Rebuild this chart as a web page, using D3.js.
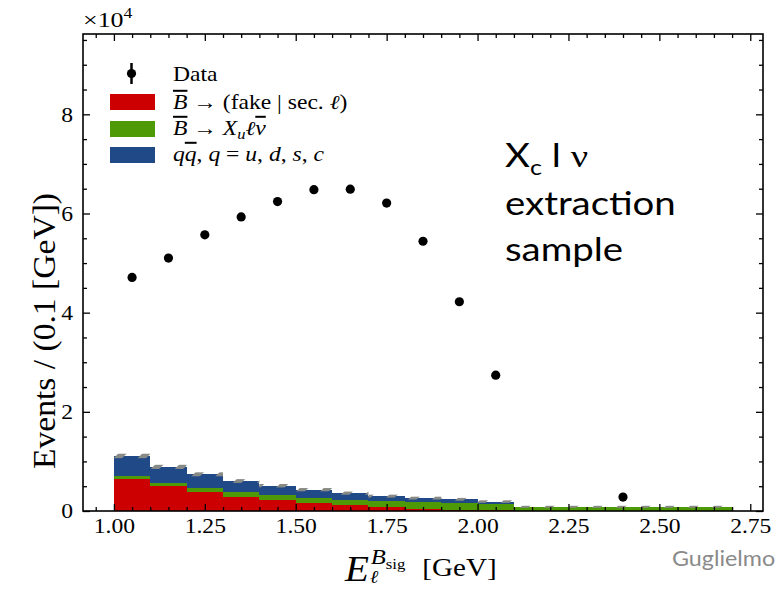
<!DOCTYPE html>
<html>
<head>
<meta charset="utf-8">
<script src="https://cdn.jsdelivr.net/npm/d3@7"></script>
<style>
  html, body { margin: 0; padding: 0; background: #fff; }
  svg { display: block; }
  .serif { font-family: "Liberation Serif", "DejaVu Serif", serif; }
</style>
</head>
<body>
<svg id="chart" width="776" height="590"></svg>
<script>
// Bin edges of the lepton-energy histogram [GeV]
const binEdges = [1.0, 1.1, 1.2, 1.3, 1.4, 1.5, 1.6, 1.7, 1.8, 1.9, 2.0, 2.1, 2.7];

// Stacked background templates (events per bin)
const fakeSecLep = [6400, 5000, 3770, 2900, 2200, 1550, 1150, 750, 470, 260, 140, 50];
const xuLepNu    = [650, 650, 810, 1000, 950, 1050, 1050, 1250, 1330, 1290, 1330, 700];
const qqbarCont  = [4050, 3250, 2820, 2150, 1950, 1700, 1400, 1000, 800, 810, 430, 100];
// Template uncertainty on the stacked total
const stackErr   = [450, 420, 400, 380, 350, 330, 320, 300, 290, 280, 260, 200];

// Observed data
const dataX   = [1.05, 1.15, 1.25, 1.35, 1.45, 1.55, 1.65, 1.75, 1.85, 1.95, 2.05, 2.4];
const dataY   = [47100, 51000, 55700, 59300, 62400, 64800, 64900, 62100, 54400, 42200, 27400, 2800];
const dataErr = [217, 226, 236, 244, 250, 255, 255, 249, 233, 205, 166, 53];

// Axis ticks
const xMajorTicks = [1.00, 1.25, 1.50, 1.75, 2.00, 2.25, 2.50, 2.75];
const yMajorTicks = [0, 20000, 40000, 60000, 80000];

const colors = { fake: "#cc0000", xu: "#4e9a06", qq: "#204a87", band: "#888a85" };

const W = 776, H = 590;
const plot = { left: 83, right: 763, top: 34, bottom: 511 };
const SX = 1.18; // horizontal glyph stretch used for the figure's text

const svg = d3.select("#chart");
svg.append("rect").attr("width", W).attr("height", H).attr("fill", "#fff");

const x = d3.scaleLinear().domain([0.915, 2.785]).range([plot.left, plot.right]);
const y = d3.scaleLinear().domain([0, 96200]).range([plot.bottom, plot.top]);

// Hatch pattern for the uncertainty band
const defs = svg.append("defs");
const pat = defs.append("pattern")
  .attr("id", "hatch").attr("patternUnits", "userSpaceOnUse")
  .attr("width", 24).attr("height", 24);
pat.append("path")
  .attr("d", "M-12,12 L12,-12 M0,24 L24,0 M12,36 L36,12")
  .attr("stroke", colors.band).attr("stroke-width", 6);
defs.append("clipPath").attr("id", "plotclip").append("rect")
  .attr("x", plot.left).attr("y", plot.top)
  .attr("width", plot.right - plot.left).attr("height", plot.bottom - plot.top);

const g = svg.append("g").attr("clip-path", "url(#plotclip)");

// Build stacked bins
const bins = binEdges.slice(0, -1).map((lo, i) => ({
  lo, hi: binEdges[i + 1],
  fake: fakeSecLep[i], xu: xuLepNu[i], qq: qqbarCont[i], err: stackErr[i]
}));
const stack = d3.stack().keys(["fake", "xu", "qq"])(bins);

const layerColor = { fake: colors.fake, xu: colors.xu, qq: colors.qq };
stack.forEach(layer => {
  g.append("g").selectAll("rect").data(layer).join("rect")
    .attr("x", d => x(d.data.lo))
    .attr("width", d => x(d.data.hi) - x(d.data.lo))
    .attr("y", d => y(d[1]))
    .attr("height", d => y(d[0]) - y(d[1]))
    .attr("fill", layerColor[layer.key])
    .attr("shape-rendering", "crispEdges");
});

// Uncertainty band on the stacked total
const totals = stack[stack.length - 1];
g.append("g").selectAll("rect").data(totals).join("rect")
  .attr("x", d => x(d.data.lo))
  .attr("width", d => x(d.data.hi) - x(d.data.lo))
  .attr("y", d => y(d[1] + d.data.err))
  .attr("height", d => y(d[1] - d.data.err) - y(d[1] + d.data.err))
  .attr("fill", "url(#hatch)");

// Data points with error bars
const pts = g.append("g");
pts.selectAll("line").data(dataX).join("line")
  .attr("x1", d => x(d)).attr("x2", d => x(d))
  .attr("y1", (d, i) => y(dataY[i] - dataErr[i]))
  .attr("y2", (d, i) => y(dataY[i] + dataErr[i]))
  .attr("stroke", "#000").attr("stroke-width", 2);
pts.selectAll("circle").data(dataX).join("circle")
  .attr("cx", d => x(d)).attr("cy", (d, i) => y(dataY[i]))
  .attr("r", 4.6).attr("fill", "#000");

// Axes: ticks pointing inward on all four sides
function minorRange(a, b, step) {
  const out = [];
  for (let v = a; v <= b + 1e-9; v += step) out.push(+v.toFixed(4));
  return out;
}
const xMinor = minorRange(0.95, 2.75, 0.05).filter(v => !xMajorTicks.some(t => Math.abs(t - v) < 1e-6));
const yMinor = minorRange(0, 95000, 5000).filter(v => !yMajorTicks.includes(v));

function drawAxis(axisFn, scale, ticks, size, transform, labels, fmt) {
  const a = svg.append("g").attr("transform", transform)
    .call(axisFn(scale).tickValues(ticks).tickSize(-size).tickSizeOuter(0)
      .tickFormat(labels ? fmt : ""));
  a.select(".domain").remove();
  a.selectAll(".tick line").attr("stroke", "#000").attr("stroke-width", 1.3);
  return a;
}
const fmtX = d3.format(".2f");
const fmtY = d => d3.format("d")(d / 10000);

const xb = drawAxis(d3.axisBottom, x, xMajorTicks, 7, `translate(0,${plot.bottom})`, true, fmtX);
drawAxis(d3.axisBottom, x, xMinor, 4, `translate(0,${plot.bottom})`, false);
drawAxis(d3.axisTop, x, xMajorTicks, 7, `translate(0,${plot.top})`, false);
drawAxis(d3.axisTop, x, xMinor, 4, `translate(0,${plot.top})`, false);
const yl = drawAxis(d3.axisLeft, y, yMajorTicks, 7, `translate(${plot.left},0)`, true, fmtY);
drawAxis(d3.axisLeft, y, yMinor, 4, `translate(${plot.left},0)`, false);
drawAxis(d3.axisRight, y, yMajorTicks, 7, `translate(${plot.right},0)`, false);
drawAxis(d3.axisRight, y, yMinor, 4, `translate(${plot.right},0)`, false);

xb.selectAll(".tick text")
  .attr("class", "serif").attr("font-size", 20).attr("fill", "#000")
  .attr("y", 8).attr("dy", "0.71em")
  .attr("transform", `scale(${SX},1)`);
yl.selectAll(".tick text")
  .attr("class", "serif").attr("font-size", 20).attr("fill", "#000")
  .attr("x", -8.5).attr("dy", "0.34em")
  .attr("transform", `scale(${SX},1)`);

// Frame
svg.append("rect")
  .attr("x", plot.left).attr("y", plot.top)
  .attr("width", plot.right - plot.left).attr("height", plot.bottom - plot.top)
  .attr("fill", "none").attr("stroke", "#000").attr("stroke-width", 1.6);

// Place a text group at (px, py) with the horizontal stretch applied
function stretched(px, py, sx = SX, sy = 1) {
  return svg.append("g").attr("transform", `translate(${px},${py}) scale(${sx},${sy})`);
}

// Offset text for the y axis
const off = stretched(83, 27).append("text").attr("class", "serif")
  .attr("font-size", 22).attr("fill", "#000");
off.append("tspan").text("×10");
off.append("tspan").attr("dy", -9).attr("font-size", 15).text("4");

// Axis titles
svg.append("g").attr("transform", "translate(55,331) rotate(-90) scale(1.2,1.1)")
  .append("text").attr("class", "serif")
  .attr("text-anchor", "middle").attr("font-size", 28).attr("fill", "#000")
  .text("Events / (0.1 [GeV])");

// E_l^{B_sig} [GeV]: main symbol, superscript and subscript as separate texts
const xt = stretched(345, 581, 1.12, 1).attr("class", "serif").attr("fill", "#000");
xt.append("text").attr("font-style", "italic").attr("font-size", 35).text("E");
const sup = xt.append("text").attr("x", 23).attr("y", -17).attr("font-size", 22);
sup.append("tspan").attr("font-style", "italic").text("B");
sup.append("tspan").attr("font-size", 15).attr("dy", 5).text("sig");
xt.append("text").attr("x", 22).attr("y", 2).attr("font-style", "italic").attr("font-size", 18).text("ℓ");
xt.append("text").attr("x", 69).attr("y", -5).attr("font-size", 26).text("[GeV]");

// Legend
const leg = svg.append("g");
leg.append("line").attr("x1", 131.5).attr("x2", 131.5).attr("y1", 63).attr("y2", 84)
  .attr("stroke", "#000").attr("stroke-width", 2.5);
leg.append("circle").attr("cx", 131.5).attr("cy", 73.5).attr("r", 4.6).attr("fill", "#000");
const swatches = [
  { c: colors.fake, y: 94 },
  { c: colors.xu, y: 121 },
  { c: colors.qq, y: 147 }
];
leg.selectAll("rect.sw").data(swatches).join("rect")
  .attr("class", "sw").attr("x", 110).attr("y", d => d.y)
  .attr("width", 45).attr("height", 16).attr("fill", d => d.c);

function legendText(py) {
  return stretched(173, py).append("text").attr("class", "serif")
    .attr("font-size", 20).attr("fill", "#000");
}
legendText(81).text("Data");

const l1 = legendText(109);
l1.append("tspan").attr("font-style", "italic").attr("text-decoration", "overline").text("B");
l1.append("tspan").text(" → (fake | sec. ");
l1.append("tspan").attr("font-style", "italic").text("ℓ");
l1.append("tspan").text(")");

const l2 = legendText(135);
l2.append("tspan").attr("font-style", "italic").attr("text-decoration", "overline").text("B");
l2.append("tspan").text(" → ");
l2.append("tspan").attr("font-style", "italic").text("X");
l2.append("tspan").attr("font-style", "italic").attr("font-size", 14).attr("dy", 4).text("u");
l2.append("tspan").attr("font-style", "italic").attr("dy", -4).text("ℓ");
l2.append("tspan").attr("font-style", "italic").attr("text-decoration", "overline").text("ν");

const l3 = legendText(161);
l3.append("tspan").attr("font-style", "italic").text("q");
l3.append("tspan").attr("font-style", "italic").attr("text-decoration", "overline").text("q");
l3.append("tspan").text(", ");
l3.append("tspan").attr("font-style", "italic").text("q");
l3.append("tspan").text(" = ");
l3.append("tspan").attr("font-style", "italic").text("u");
l3.append("tspan").text(", ");
l3.append("tspan").attr("font-style", "italic").text("d");
l3.append("tspan").text(", ");
l3.append("tspan").attr("font-style", "italic").text("s");
l3.append("tspan").text(", ");
l3.append("tspan").attr("font-style", "italic").text("c");

// Sample annotation
function annText(py) {
  return stretched(505, py, 1.2, 1).append("text")
    .attr("font-family", "Lato, 'Open Sans', sans-serif")
    .attr("font-size", 32).attr("fill", "#000");
}
const a1 = annText(167);
a1.append("tspan").text("X");
a1.append("tspan").attr("font-size", 21).attr("dy", 8).text("c");
a1.append("tspan").attr("dy", -8).text(" l ");
a1.append("tspan").attr("font-family", "'Liberation Serif', serif").text("ν");
annText(215).text("extraction");
annText(261).text("sample");

// Author credit
stretched(672, 566, 1.06, 1).append("text")
  .attr("font-family", "Lato, 'Open Sans', sans-serif").attr("font-size", 22)
  .attr("fill", "#8a8a8a").text("Guglielmo");
</script>
</body>
</html>
